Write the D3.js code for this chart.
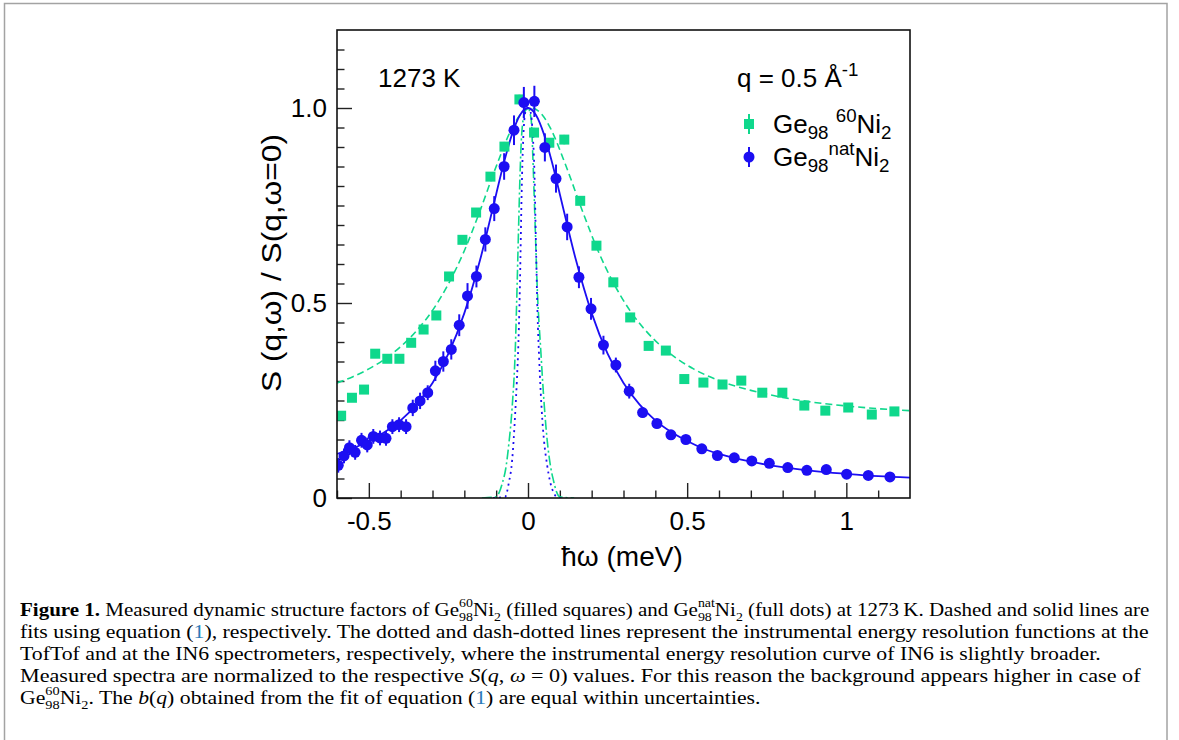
<!DOCTYPE html>
<html><head><meta charset="utf-8">
<script src="https://cdnjs.cloudflare.com/ajax/libs/d3/7.8.5/d3.min.js"></script>
<style>body{margin:0;background:#fff}svg{display:block}text{white-space:pre}</style>
</head><body>
<svg id="c" width="1179" height="740"></svg>
<script>
// ---- data ----
const natX = [-0.596,-0.578,-0.561,-0.543,-0.523,-0.505,-0.486,-0.465,-0.446,-0.426,-0.405,-0.383,-0.362,-0.339,-0.315,-0.291,-0.266,-0.241,-0.216,-0.190,-0.162,-0.134,-0.106,-0.075,-0.044,-0.013,0.020,0.053,0.088,0.123,0.160,0.198,0.237,0.276,0.318,0.360,0.405,0.449,0.496,0.546,0.595,0.648,0.703,0.758,0.816,0.876,0.937,1.001,1.069,1.137];
const natY = [0.084,0.108,0.129,0.117,0.148,0.136,0.158,0.154,0.153,0.183,0.188,0.183,0.231,0.249,0.270,0.326,0.350,0.381,0.443,0.518,0.568,0.663,0.742,0.850,0.943,1.014,1.017,0.899,0.819,0.695,0.566,0.485,0.392,0.341,0.274,0.219,0.191,0.162,0.150,0.126,0.109,0.103,0.095,0.089,0.078,0.071,0.073,0.061,0.058,0.054];
const natErr = [0.019,0.019,0.019,0.019,0.019,0.019,0.019,0.019,0.019,0.019,0.019,0.019,0.021,0.021,0.019,0.026,0.026,0.026,0.028,0.033,0.028,0.031,0.032,0.034,0.038,0.040,0.040,0.036,0.036,0.034,0.028,0.028,0.024,0.019,0.019,0.013,0.012,0.011,0.010,0.010,0.009,0.009,0.008,0.008,0.008,0.007,0.007,0.007,0.006,0.006];

const geX = [-0.587,-0.553,-0.515,-0.480,-0.442,-0.404,-0.367,-0.328,-0.288,-0.248,-0.206,-0.163,-0.118,-0.074,-0.027,0.019,0.067,0.114,0.164,0.215,0.268,0.321,0.379,0.433,0.491,0.551,0.611,0.670,0.736,0.799,0.868,0.934,1.006,1.080,1.151];
const geY = [0.211,0.257,0.278,0.370,0.357,0.357,0.398,0.432,0.468,0.568,0.662,0.732,0.824,0.901,1.022,0.937,0.911,0.919,0.762,0.647,0.553,0.463,0.390,0.378,0.305,0.296,0.291,0.301,0.270,0.270,0.237,0.224,0.232,0.214,0.222];
const geErr = [0.010,0.010,0.010,0.010,0.010,0.010,0.010,0.010,0.010,0.010,0.011,0.011,0.011,0.012,0.012,0.012,0.012,0.012,0.011,0.011,0.010,0.010,0.010,0.010,0.009,0.009,0.009,0.009,0.009,0.009,0.008,0.008,0.008,0.008,0.008];

const fitNatX = [-0.6,-0.55,-0.5,-0.45,-0.4,-0.35,-0.3,-0.25,-0.2,-0.15,-0.1,-0.075,-0.05,-0.025,0,0.025,0.05,0.075,0.1,0.15,0.2,0.25,0.3,0.35,0.4,0.45,0.5,0.55,0.6,0.7,0.8,0.9,1.0,1.1,1.2];
const fitNatY = [0.113,0.127,0.146,0.169,0.199,0.240,0.295,0.370,0.474,0.612,0.779,0.862,0.933,0.982,1.0,0.982,0.933,0.862,0.779,0.612,0.474,0.370,0.295,0.240,0.199,0.169,0.146,0.127,0.113,0.093,0.079,0.069,0.062,0.056,0.052];

const fit60X = [-0.6,-0.55,-0.5,-0.45,-0.4,-0.35,-0.3,-0.25,-0.2,-0.15,-0.1,-0.05,-0.025,0.01,0.045,0.07,0.12,0.17,0.22,0.27,0.32,0.37,0.42,0.47,0.52,0.6,0.7,0.8,0.9,1.0,1.1,1.2];
const fit60Y = [0.295,0.311,0.331,0.356,0.388,0.429,0.481,0.549,0.634,0.738,0.850,0.949,0.982,1.0,0.982,0.949,0.850,0.738,0.634,0.549,0.481,0.429,0.388,0.356,0.331,0.301,0.276,0.258,0.245,0.236,0.229,0.224];

const resTofX = [-0.11,-0.072,-0.06,-0.05,-0.045,-0.04,-0.035,-0.03,-0.025,-0.02,-0.015,-0.008,0,0.008,0.015,0.02,0.025,0.03,0.035,0.04,0.045,0.05,0.06,0.07,0.08,0.09,0.11];
const resTofY = [0,0.003,0.04,0.095,0.15,0.22,0.30,0.40,0.56,0.78,0.92,0.99,1.0,0.99,0.93,0.84,0.65,0.47,0.36,0.27,0.20,0.15,0.085,0.04,0.015,0.003,0];

const resIN6X = [-0.145,-0.1,-0.09,-0.08,-0.07,-0.06,-0.05,-0.04,-0.035,-0.03,-0.025,-0.02,-0.01,0,0.01,0.015,0.02,0.03,0.04,0.05,0.06,0.07,0.08,0.09,0.1,0.145];
const resIN6Y = [0,0.003,0.015,0.04,0.075,0.14,0.23,0.38,0.52,0.68,0.83,0.93,0.99,1.0,0.97,0.88,0.76,0.52,0.38,0.25,0.15,0.085,0.045,0.015,0.003,0];

const xMajor = [-0.5, 0, 0.5, 1];
const xMajorLabels = ["-0.5", "0", "0.5", "1"];
const xMinor = [-0.6,-0.4,-0.3,-0.2,-0.1,0.1,0.2,0.3,0.4,0.6,0.7,0.8,0.9,1.1];
const yMajor = [0, 0.5, 1.0];
const yMajorLabels = ["0", "0.5", "1.0"];
const yMinor = [0.05,0.1,0.15,0.2,0.25,0.3,0.35,0.4,0.45,0.55,0.6,0.65,0.7,0.75,0.8,0.85,0.9,0.95,1.05,1.1,1.15];

// ---- layout ----
const BLUE = "#1c0ef2", GREEN = "#0fd88c", LINK = "#2b7bb9";
const P = {left: 337, right: 910, top: 30, bottom: 498};
const svg = d3.select("#c");
const SANS = "'Liberation Sans', Arial, Helvetica, sans-serif";
const SERIF = "'Liberation Serif', 'Times New Roman', serif";

svg.append("rect").attr("x", 4.5).attr("y", 3.5).attr("width", 1162.5).attr("height", 760)
  .attr("fill", "none").attr("stroke", "#a3a3a3").attr("stroke-width", 1.5);

const x = d3.scaleLinear().domain([-0.6, 1.2]).range([P.left, P.right]);
const y = d3.scaleLinear().domain([0, 1.2]).range([P.bottom, P.top]);

svg.append("clipPath").attr("id", "clip").append("rect")
  .attr("x", P.left).attr("y", P.top).attr("width", P.right - P.left).attr("height", P.bottom - P.top);

function styleAxis(g) {
  g.select(".domain").remove();
  g.selectAll(".tick line").attr("stroke", "#222").attr("stroke-width", 1.4);
  g.selectAll(".tick text").attr("font-family", SANS).attr("font-size", 26).attr("fill", "#000");
}
svg.append("g").attr("transform", `translate(0,${P.bottom})`)
  .call(d3.axisBottom(x).tickValues(xMinor).tickSize(-7.5).tickSizeOuter(0).tickFormat(""))
  .call(styleAxis);
svg.append("g").attr("transform", `translate(0,${P.bottom})`)
  .call(d3.axisBottom(x).tickValues(xMajor).tickSize(-15).tickSizeOuter(0).tickPadding(14)
    .tickFormat((d, i) => xMajorLabels[i]))
  .call(styleAxis);
svg.append("g").attr("transform", `translate(${P.left},0)`)
  .call(d3.axisLeft(y).tickValues(yMinor).tickSize(-7.5).tickSizeOuter(0).tickFormat(""))
  .call(styleAxis);
svg.append("g").attr("transform", `translate(${P.left},0)`)
  .call(d3.axisLeft(y).tickValues(yMajor).tickSize(-15).tickSizeOuter(0).tickPadding(10)
    .tickFormat((d, i) => yMajorLabels[i]))
  .call(styleAxis);

// curves
const plotG = svg.append("g").attr("clip-path", "url(#clip)");
const line = d3.line().x(d => x(d[0])).y(d => y(d[1])).curve(d3.curveMonotoneX);
function curve(xs, ys, color, dash, w) {
  plotG.append("path").datum(d3.zip(xs, ys)).attr("d", line)
    .attr("fill", "none").attr("stroke", color).attr("stroke-width", w)
    .attr("stroke-dasharray", dash);
}
curve(resIN6X, resIN6Y, GREEN, "10,3,2,3", 1.6);
curve(resTofX, resTofY, BLUE, "2,4", 1.8);
curve(fit60X, fit60Y, GREEN, "7,4", 1.6);
curve(fitNatX, fitNatY, BLUE, null, 1.8);

const geD = d3.range(geX.length).map(i => ({x: geX[i], y: geY[i], e: geErr[i]}));
plotG.selectAll(".geErr").data(geD).join("line")
  .attr("x1", d => x(d.x)).attr("x2", d => x(d.x))
  .attr("y1", d => y(d.y - d.e)).attr("y2", d => y(d.y + d.e))
  .attr("stroke", GREEN).attr("stroke-width", 2);
plotG.selectAll(".geSq").data(geD).join("rect")
  .attr("x", d => x(d.x) - 5).attr("y", d => y(d.y) - 5)
  .attr("width", 10).attr("height", 10).attr("fill", GREEN);

const natD = d3.range(natX.length).map(i => ({x: natX[i], y: natY[i], e: natErr[i]}));
plotG.selectAll(".natErr").data(natD).join("line")
  .attr("x1", d => x(d.x)).attr("x2", d => x(d.x))
  .attr("y1", d => y(d.y - d.e)).attr("y2", d => y(d.y + d.e))
  .attr("stroke", BLUE).attr("stroke-width", 2);
plotG.selectAll(".natDot").data(natD).join("circle")
  .attr("cx", d => x(d.x)).attr("cy", d => y(d.y)).attr("r", 5.5).attr("fill", BLUE);

svg.append("rect").attr("x", P.left).attr("y", P.top).attr("width", P.right - P.left)
  .attr("height", P.bottom - P.top).attr("fill", "none").attr("stroke", "#111").attr("stroke-width", 1.6);

// rich text helper
function rich(parent, tx, ty, parts, o) {
  const t = parent.append("text").attr("x", tx).attr("y", ty)
    .attr("font-family", o.family).attr("font-size", o.size).attr("fill", "#000");
  let cur = 0, pend = 0;
  const scr = o.size * (o.scr || 0.7);
  for (const p of parts) {
    if (p.stack) {
      const a = t.append("tspan").text(p.stack[0]).attr("font-size", scr).attr("dy", -o.sup - cur);
      if (pend) a.attr("dx", pend); pend = 0; cur = -o.sup;
      const w1 = a.node().getComputedTextLength();
      const b = t.append("tspan").text(p.stack[1]).attr("font-size", scr)
        .attr("dx", -w1).attr("dy", o.sub - cur);
      cur = o.sub;
      const w2 = b.node().getComputedTextLength();
      if (w1 > w2) pend = w1 - w2;
      continue;
    }
    const off = p.sub ? o.sub : p.sup ? -o.sup : 0;
    const s = t.append("tspan").text(p.t).attr("dy", off - cur);
    cur = off;
    if (p.sub || p.sup) s.attr("font-size", scr);
    if (pend) { s.attr("dx", pend); pend = 0; }
    if (p.i) s.attr("font-style", "italic");
    if (p.b) s.attr("font-weight", "bold");
    if (p.c) s.attr("fill", p.c);
  }
  return t;
}

// axis titles
svg.append("text").attr("transform", "translate(281,263) rotate(-90)")
  .attr("text-anchor", "middle").attr("font-family", SANS).attr("font-size", 28)
  .attr("textLength", 258).attr("lengthAdjust", "spacingAndGlyphs")
  .text("S (q,\u03c9) / S(q,\u03c9=0)");
svg.append("text").attr("x", 622).attr("y", 566).attr("text-anchor", "middle")
  .attr("font-family", SANS).attr("font-size", 28).text("\u0127\u03c9 (meV)");

// annotations
const ch = {family: SANS, size: 26, sub: 6, sup: 11, scr: 0.72};
rich(svg, 378, 87, [{t: "1273 K"}], ch);
rich(svg, 737, 87, [{t: "q = 0.5 \u00c5"}, {t: "-1", sup: 1}], ch);
rich(svg, 773, 133, [{t: "Ge"}, {t: "98", sub: 1}, {t: " "}, {t: "60", sup: 1}, {t: "Ni"}, {t: "2", sub: 1}], ch);
rich(svg, 773, 166, [{t: "Ge"}, {t: "98", sub: 1}, {t: "nat", sup: 1}, {t: "Ni"}, {t: "2", sub: 1}], ch);

svg.append("line").attr("x1", 749).attr("x2", 749).attr("y1", 114).attr("y2", 134)
  .attr("stroke", GREEN).attr("stroke-width", 2);
svg.append("rect").attr("x", 744).attr("y", 119).attr("width", 10).attr("height", 10).attr("fill", GREEN);
svg.append("line").attr("x1", 749).attr("x2", 749).attr("y1", 147).attr("y2", 167)
  .attr("stroke", BLUE).attr("stroke-width", 2);
svg.append("circle").attr("cx", 749).attr("cy", 157).attr("r", 5.5).attr("fill", BLUE);

// caption
const cap = {family: SERIF, size: 18, sub: 5, sup: 8.5, scr: 0.66};
const capLines = [
  {y: 616, end: 1150, parts: [{t: "Figure 1.", b: 1}, {t: " Measured dynamic structure factors of Ge"}, {stack: ["60", "98"]}, {t: "Ni"}, {t: "2", sub: 1}, {t: " (filled squares) and Ge"}, {stack: ["nat", "98"]}, {t: "Ni"}, {t: "2", sub: 1}, {t: " (full dots) at 1273\u2009K. Dashed and solid lines are"}]},
  {y: 638, end: 1149, parts: [{t: "fits using equation ("}, {t: "1", c: LINK}, {t: "), respectively. The dotted and dash-dotted lines represent the instrumental energy resolution functions at the"}]},
  {y: 660, end: 1101, parts: [{t: "TofTof and at the IN6 spectrometers, respectively, where the instrumental energy resolution curve of IN6 is slightly broader."}]},
  {y: 682, end: 1141, parts: [{t: "Measured spectra are normalized to the respective "}, {t: "S", i: 1}, {t: "("}, {t: "q", i: 1}, {t: ", "}, {t: "\u03c9", i: 1}, {t: " = 0) values. For this reason the background appears higher in case of"}]},
  {y: 704, end: 761, parts: [{t: "Ge"}, {stack: ["60", "98"]}, {t: "Ni"}, {t: "2", sub: 1}, {t: ". The "}, {t: "b", i: 1}, {t: "("}, {t: "q", i: 1}, {t: ") obtained from the fit of equation ("}, {t: "1", c: LINK}, {t: ") are equal within uncertainties."}]}
];
const capStart = 20;
capLines.forEach(L => {
  const t = rich(svg, capStart, L.y, L.parts, cap);
  const w = t.node().getBBox().width;
  const s = (L.end - capStart) / w;
  t.attr("transform", `translate(${capStart},0) scale(${s.toFixed(4)},1) translate(${-capStart},0)`);
});
</script>
</body></html>
